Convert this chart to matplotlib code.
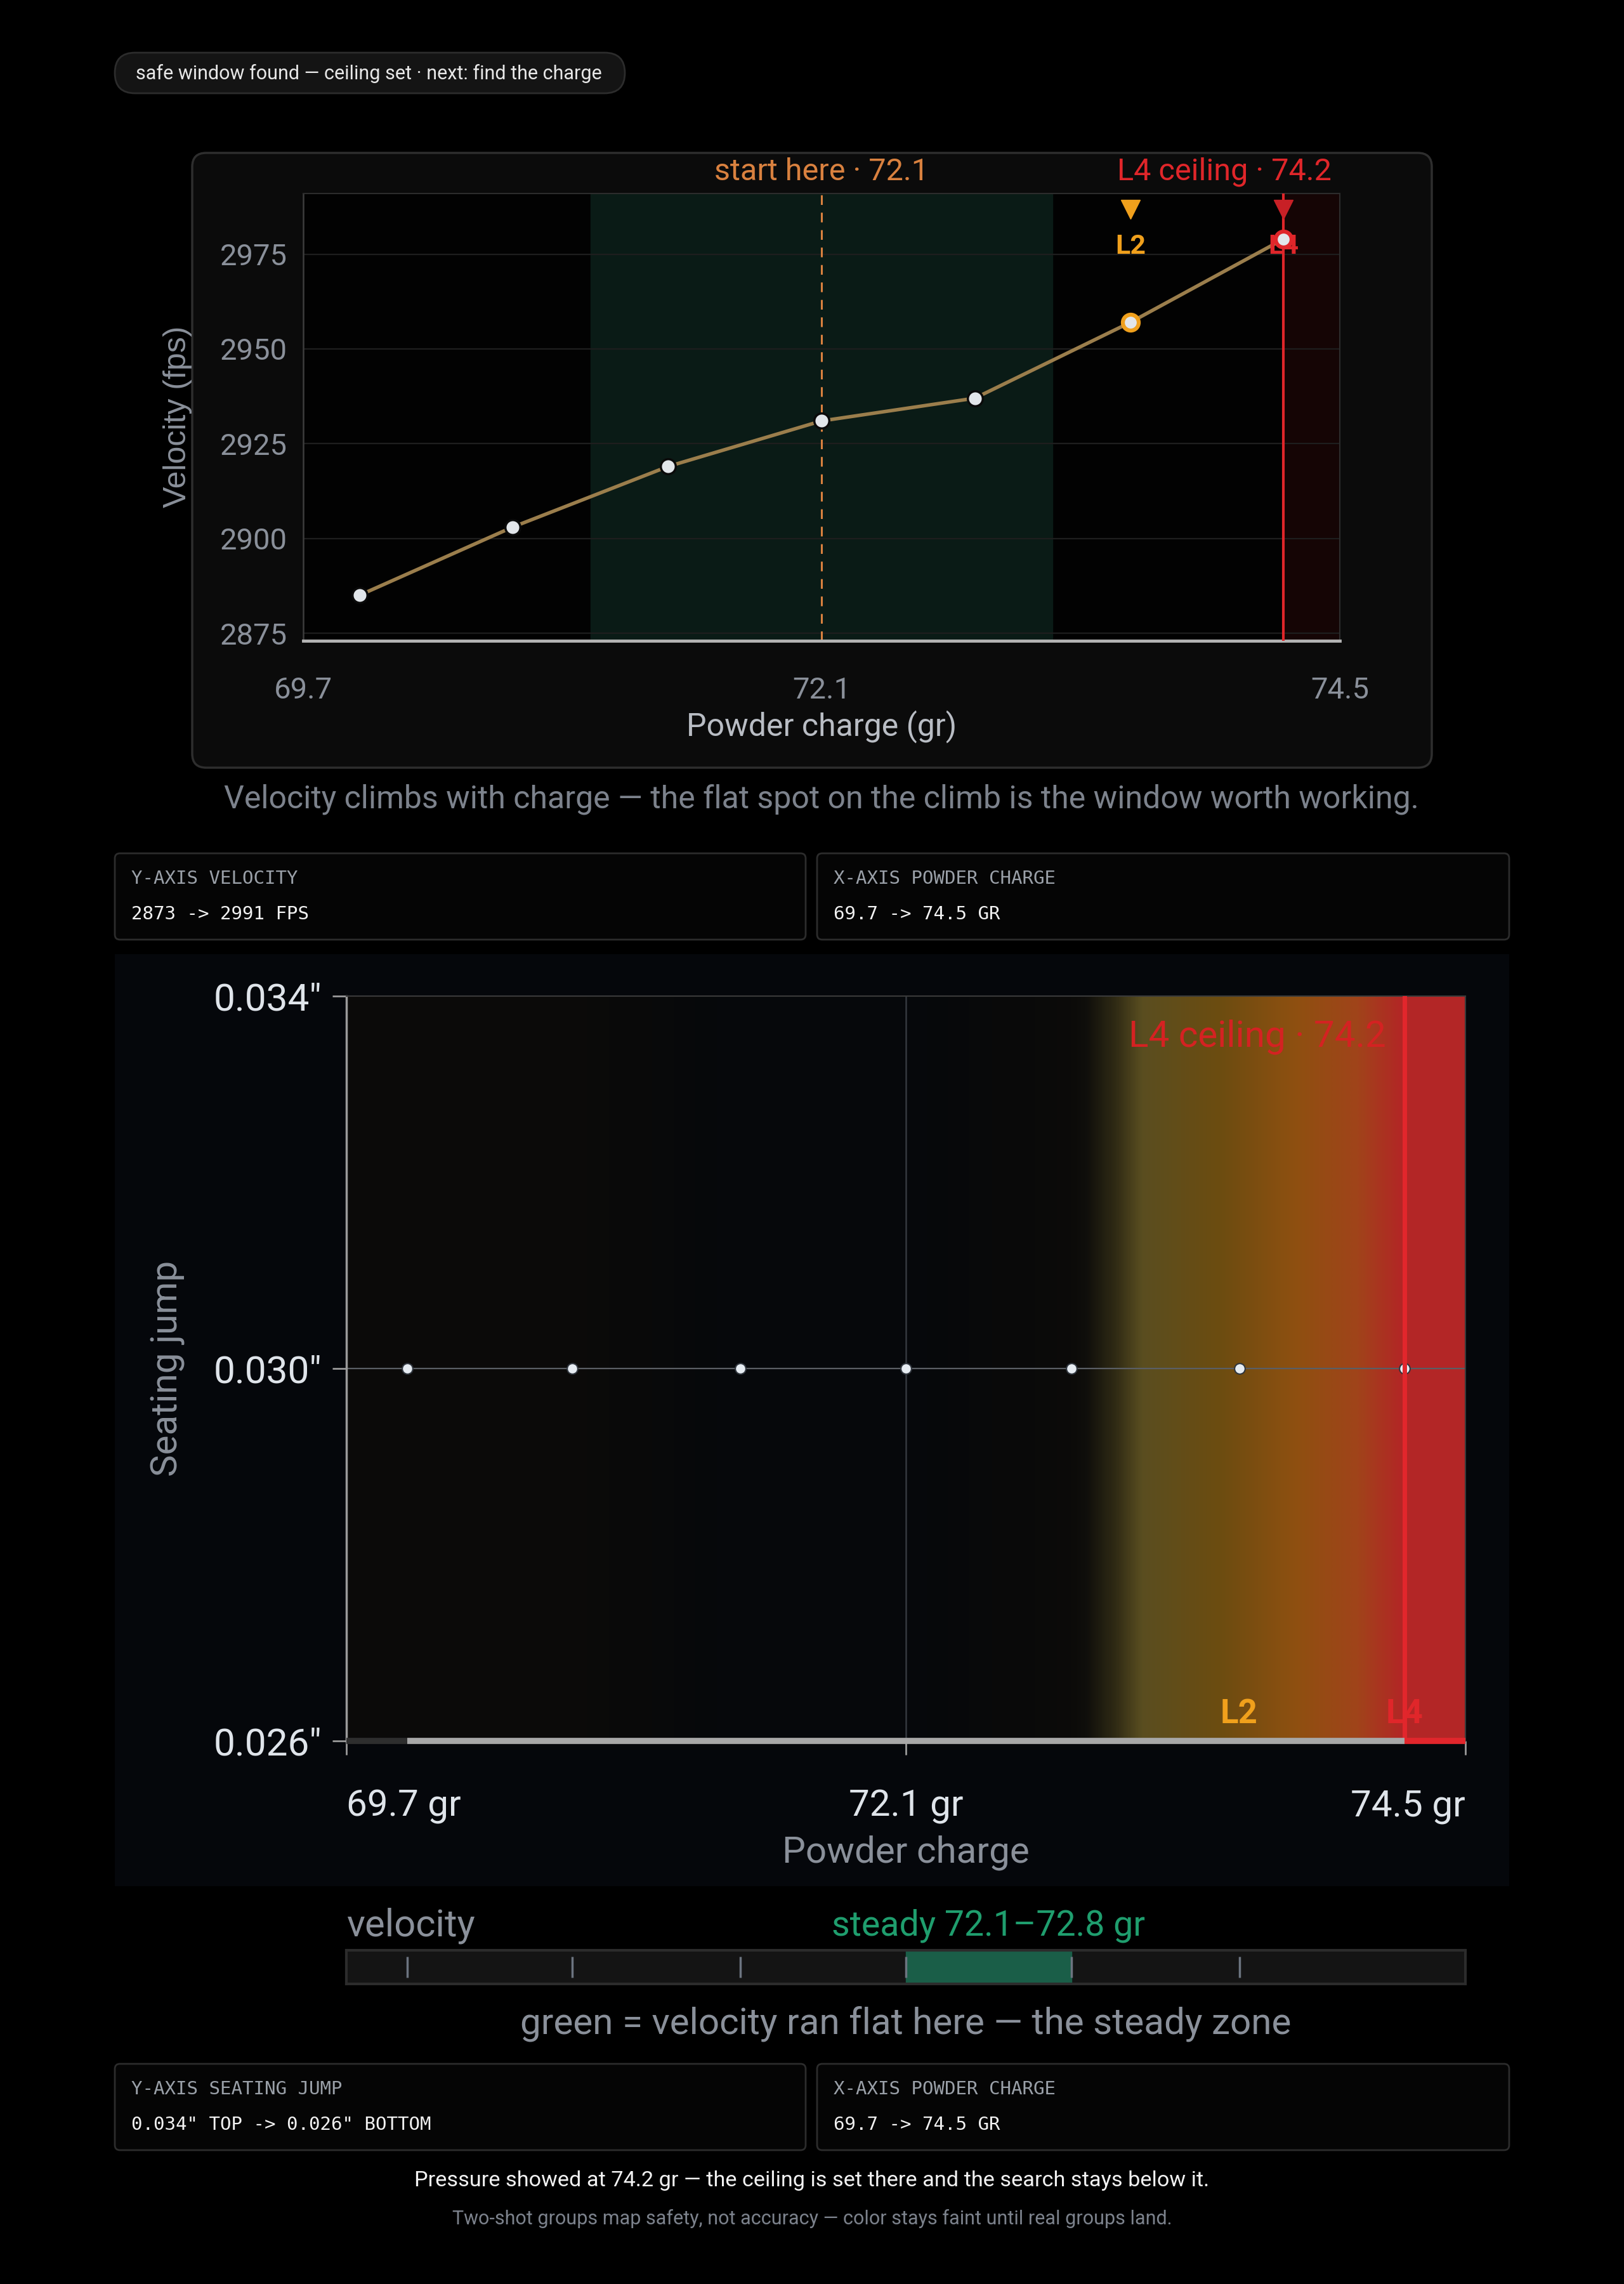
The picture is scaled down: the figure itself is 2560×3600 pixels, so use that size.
import matplotlib
matplotlib.use("Agg")
import matplotlib.pyplot as plt
from matplotlib.patches import FancyBboxPatch
from matplotlib.colors import LinearSegmentedColormap

# chart values
charges = [69.96, 70.67, 71.39, 72.1, 72.81, 73.53, 74.24]
velocity = [2885, 2903, 2919, 2931, 2937, 2957, 2979]
seating = [0.030, 0.030, 0.030, 0.030, 0.030, 0.030, 0.030]
heat = [0.03, 0.03, 0.0, 0.0, 0.03, 0.5, 1.0]

vel_ticks = [2875, 2900, 2925, 2950, 2975]
vel_range = [2873, 2991]
x_ticks = [69.7, 72.1, 74.5]
seat_ticks = [0.026, 0.030, 0.034]
window = [71.03, 73.17]
steady = [72.1, 72.81]
start_charge = 72.1
ceiling = 74.24
l2_index = 5

W, H = 2560, 3600
SANS = ["Roboto", "DejaVu Sans"]
MONO = ["DejaVu Sans Mono"]
plt.rcParams["font.family"] = SANS

GRAY = "#8a909a"
ORANGE = "#f0a01c"
START = "#d9813f"
RED = "#e0262a"
TAN = "#9b7e4c"

fig = plt.figure(figsize=(W / 100, H / 100), dpi=100, facecolor="black")

# background axes in pixel coordinates
bg = fig.add_axes([0, 0, 1, 1], zorder=-10)
bg.set_xlim(0, W)
bg.set_ylim(H, 0)
bg.axis("off")
bg.set_facecolor("black")


def rbox(x0, y0, x1, y1, r, fc, ec, lw=2):
    bg.add_patch(FancyBboxPatch((x0, y0), x1 - x0, y1 - y0,
                                boxstyle=f"round,pad=0,rounding_size={r}",
                                fc=fc, ec=ec, lw=lw))


def px_axes(x0, y0, x1, y1):
    return fig.add_axes([x0 / W, 1 - y1 / H, (x1 - x0) / W, (y1 - y0) / H])


# status chip
rbox(181, 83, 985, 147, 32, "#141414", "#2c2c2c")
bg.text(214, 116, "safe window found \u2014 ceiling set \u00b7 next: find the charge",
        color="#e8e8e8", fontsize=22, va="center", ha="left")

# ---------- velocity card ----------
rbox(303, 241, 2257, 1210, 22, "#0b0b0b", "#2e2e2e", 2.5)
ax1 = px_axes(478, 305, 2112, 1010)
ax1.set_facecolor("#020202")
ax1.set_xlim(69.7, 74.5)
ax1.set_ylim(vel_range[0], vel_range[1])
ax1.axvspan(window[0], window[1], color="#0a1b16", zorder=0)
ax1.axvspan(ceiling, 74.5, color="#150505", zorder=0)
for v in vel_ticks:
    ax1.axhline(v, color="#1e1e1e", lw=1.6, zorder=1)
ax1.axvline(start_charge, color=START, lw=2.2, ls=(0, (5, 4)), zorder=2)
ax1.axvline(ceiling, color=RED, lw=3, zorder=3)
ax1.plot(charges, velocity, color=TAN, lw=4, zorder=4, solid_capstyle="round")
ax1.plot(charges, velocity, ls="none", marker="o", ms=17, mfc="#e2e6ea",
         mec="#0a0a0a", mew=2.5, zorder=5)
ax1.plot(charges[l2_index], velocity[l2_index], marker="o", ms=18, mfc="#e2e6ea",
         mec=ORANGE, mew=4.5, zorder=6)
ax1.plot(charges[-1], velocity[-1], marker="o", ms=18, mfc="#e2e6ea",
         mec=RED, mew=4.5, zorder=6)

tx = ax1.get_xaxis_transform()
ax1.plot(charges[l2_index], 0.965, marker="v", ms=22, color=ORANGE, transform=tx,
         clip_on=False, zorder=7)
ax1.plot(ceiling, 0.965, marker="v", ms=22, color="#c82026", transform=tx,
         clip_on=False, zorder=7)
ax1.text(charges[l2_index], 0.882, "L2", color=ORANGE, fontsize=31, fontweight="bold",
         ha="center", va="center", transform=tx, zorder=7)
ax1.text(ceiling, 0.882, "L4", color=RED, fontsize=31, fontweight="bold",
         ha="center", va="center", transform=tx, zorder=5)
ax1.text(start_charge, 1.048, f"start here \u00b7 {start_charge}", color=START,
         fontsize=35, ha="center", va="center", transform=tx)
ax1.text(74.46, 1.048, f"L4 ceiling \u00b7 {ceiling:.1f}", color=RED,
         fontsize=35, ha="right", va="center", transform=tx)

ax1.set_xticks(x_ticks)
ax1.set_xticklabels([f"{v}" for v in x_ticks])
ax1.set_yticks(vel_ticks)
ax1.tick_params(axis="both", length=0, labelsize=34, labelcolor=GRAY)
ax1.tick_params(axis="x", pad=40)
ax1.tick_params(axis="y", pad=18)
for s in ["top", "right"]:
    ax1.spines[s].set_color("#2c2c2c")
    ax1.spines[s].set_linewidth(1.5)
ax1.spines["left"].set_color("#3c3c3c")
ax1.spines["left"].set_linewidth(1.8)
ax1.spines["bottom"].set_color("#b4b4b4")
ax1.spines["bottom"].set_linewidth(3.5)

bg.text(1295, 1145, "Powder charge (gr)", color="#b9bdc4", fontsize=36,
        ha="center", va="center")
bg.text(280, 657, "Velocity (fps)", color=GRAY, fontsize=36, rotation=90,
        ha="center", va="center", family=["Liberation Sans", "DejaVu Sans"])
bg.text(1295, 1260, "Velocity climbs with charge \u2014 the flat spot on the climb is the window worth working.",
        color="#7c828c", fontsize=36, ha="center", va="center")


def info_boxes(y0, y1, items):
    xs = [(181, 1270), (1288, 2379)]
    for (x0, x1), (lab, val) in zip(xs, items):
        rbox(x0, y0, x1, y1, 8, "#050505", "#2c2c2c", 2)
        bg.text(x0 + 26, y0 + 40, lab, color="#9aa0a8", fontsize=21,
                family=MONO, ha="left", va="center")
        bg.text(x0 + 26, y0 + 96, val, color="#f2f2f2", fontsize=21,
                family=MONO, ha="left", va="center")


info_boxes(1345, 1481, [("Y-AXIS VELOCITY", f"{vel_range[0]} -> {vel_range[1]} FPS"),
                        ("X-AXIS POWDER CHARGE", f"{x_ticks[0]} -> {x_ticks[-1]} GR")])

# ---------- seating / charge heat map ----------
bg.add_patch(plt.Rectangle((181, 1504), 2198, 1469, fc="#05070b", ec="none"))
ax2 = px_axes(546, 1570, 2310, 2744)
ax2.set_facecolor("#05070b")
cmap = LinearSegmentedColormap.from_list("heat", [
    (0.0, "#06080b"), (0.03, "#0c0b09"), (0.07, "#0f0e0b"), (0.15, "#2e2914"),
    (0.23, "#5a4e20"), (0.45, "#6c4c10"), (0.675, "#8e5010"), (0.86, "#a0441a"),
    (0.98, "#b02a24"), (1.0, "#b32626")])
half = (charges[1] - charges[0]) / 2
ax2.imshow([heat], extent=[charges[0] - half, charges[-1] + half, 0.026, 0.034],
           aspect="auto", cmap=cmap, vmin=0, vmax=1, interpolation="bilinear",
           zorder=0)
ax2.set_xlim(69.7, 74.5)
ax2.set_ylim(0.026, 0.034)
ax2.axvline(start_charge, color="#34383e", lw=1.8, zorder=1)
ax2.axhline(0.030, color="#5a5e64", lw=1.6, zorder=1)
ax2.axvline(ceiling, color="#e2262c", lw=5, zorder=3)
ax2.plot(charges, seating, ls="none", marker="o", ms=12, mfc="#e6ecf2",
         mec="#30363e", mew=1.5, zorder=2)

ax2.plot([69.7, charges[0]], [0.026, 0.026], color="#2e2e2e", lw=7,
         solid_capstyle="butt", clip_on=False, zorder=4)
ax2.plot([charges[0], ceiling], [0.026, 0.026], color="#a8a8a8", lw=7,
         solid_capstyle="butt", clip_on=False, zorder=4)
ax2.plot([ceiling, 74.5], [0.026, 0.026], color="#e2262c", lw=7,
         solid_capstyle="butt", clip_on=False, zorder=4)

tx2 = ax2.get_xaxis_transform()
ax2.text(74.16, 0.945, f"L4 ceiling \u00b7 {ceiling:.1f}", color="#d42222",
         fontsize=42, ha="right", va="center", transform=tx2, zorder=5)
ax2.text(charges[l2_index], 0.036, "L2", color=ORANGE, fontsize=38, fontweight="bold",
         ha="center", va="center", transform=tx2, zorder=5)
ax2.text(ceiling, 0.036, "L4", color="#e0262a", fontsize=38, fontweight="bold",
         ha="center", va="center", transform=tx2, zorder=2)

ax2.set_yticks(seat_ticks)
ax2.set_yticklabels([f'{v:.3f}"' for v in seat_ticks])
ax2.set_xticks(x_ticks)
ax2.set_xticklabels([f"{v} gr" for v in x_ticks])
for lab, ha in zip(ax2.get_xticklabels(), ["left", "center", "right"]):
    lab.set_ha(ha)
ax2.tick_params(axis="both", length=16, width=2, color="#9a9a9a",
                labelsize=42, labelcolor="#dfe4ea")
ax2.tick_params(axis="y", labelsize=43.5, pad=12)
ax2.tick_params(axis="x", pad=39)
ax2.spines["left"].set_color("#9a9a9a")
ax2.spines["left"].set_linewidth(2.5)
ax2.spines["top"].set_color("#3a3a3a")
ax2.spines["top"].set_linewidth(1.5)
ax2.spines["right"].set_color("#3a3a3a")
ax2.spines["right"].set_linewidth(1.5)
ax2.spines["bottom"].set_visible(False)

bg.text(1428, 2920, "Powder charge", color=GRAY, fontsize=42, ha="center", va="center")
bg.text(264, 2157, "Seating jump", color=GRAY, fontsize=42, rotation=90,
        ha="center", va="center")

# ---------- velocity strip ----------
ax3 = px_axes(546, 3074, 2310, 3127)
ax3.set_facecolor("#141414")
ax3.set_xlim(69.7, 74.5)
ax3.set_ylim(0, 1)
ax3.axvspan(steady[0], steady[1], color="#1a5e48", zorder=1)
ax3.vlines(charges[:-1], 0.18, 0.82, color="#6c7480", lw=2.5, zorder=2)
ax3.set_xticks([])
ax3.set_yticks([])
for s in ax3.spines.values():
    s.set_color("#2c2c2c")
    s.set_linewidth(3)
tx3 = ax3.get_xaxis_transform()
ax3.text(69.7, 1.74, "velocity", color=GRAY, fontsize=43, ha="left", va="center",
         transform=tx3)
ax3.text(sum(steady) / 2, 1.74, f"steady {steady[0]}\u2013{steady[1]:.1f} gr",
         color="#1f9e6e", fontsize=40, ha="center", va="center", transform=tx3)
bg.text(1428, 3190, "green = velocity ran flat here \u2014 the steady zone",
        color=GRAY, fontsize=42, ha="center", va="center")

info_boxes(3253, 3389, [("Y-AXIS SEATING JUMP",
                         f'{seat_ticks[-1]:.3f}" TOP -> {seat_ticks[0]:.3f}" BOTTOM'),
                        ("X-AXIS POWDER CHARGE", f"{x_ticks[0]} -> {x_ticks[-1]} GR")])

bg.text(1280, 3437, f"Pressure showed at {ceiling:.1f} gr \u2014 the ceiling is set there and the search stays below it.",
        color="#f2f2f2", fontsize=24.7, ha="center", va="center")
bg.text(1280, 3497, "Two-shot groups map safety, not accuracy \u2014 color stays faint until real groups land.",
        color="#7c828c", fontsize=22, ha="center", va="center")

fig.savefig("out.png", dpi=100, facecolor="black")
